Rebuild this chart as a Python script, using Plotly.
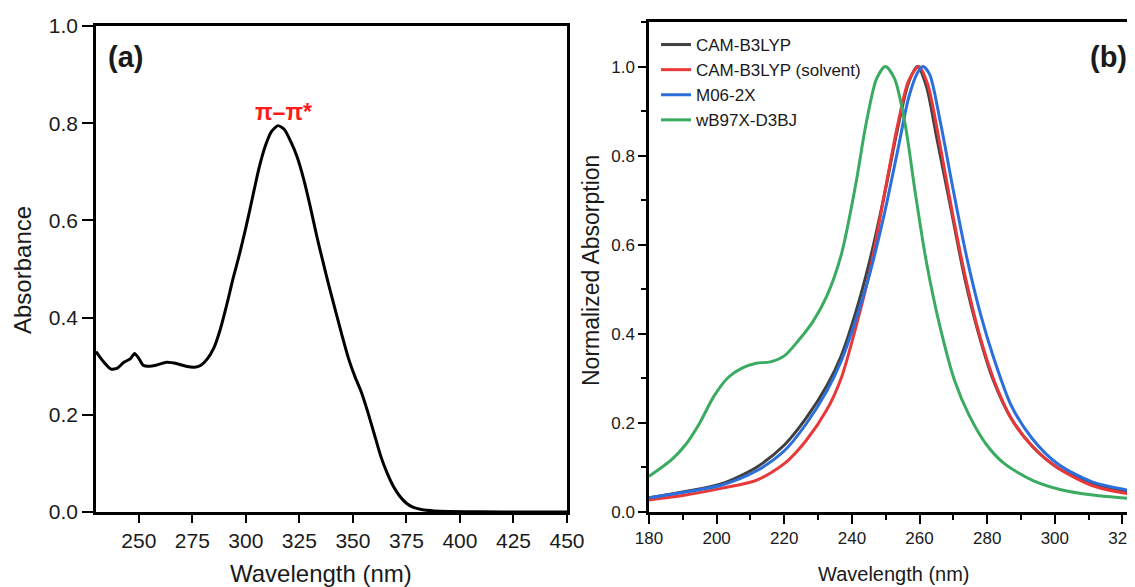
import plotly.graph_objects as go

# ---------------- Panel (a): experimental absorbance ----------------
wl_a = [230, 233, 237, 240, 243, 246, 248, 250, 252, 255, 258, 263, 268, 272, 276,
        279, 282, 285, 288, 291, 294, 297, 300, 303, 306, 309, 312, 315, 318, 321,
        324, 327, 330, 333, 336, 339, 342, 345, 348, 351, 354, 357, 360, 363, 366,
        369, 372, 375, 378, 382, 388, 395, 410, 430, 450]
abs_a = [0.330, 0.312, 0.294, 0.296, 0.308, 0.315, 0.326, 0.316, 0.302, 0.300, 0.302,
         0.308, 0.305, 0.300, 0.298, 0.302, 0.315, 0.337, 0.375, 0.425, 0.480, 0.530,
         0.585, 0.645, 0.705, 0.752, 0.783, 0.795, 0.787, 0.762, 0.730, 0.685, 0.630,
         0.570, 0.515, 0.462, 0.412, 0.362, 0.315, 0.278, 0.246, 0.205, 0.160, 0.115,
         0.080, 0.052, 0.032, 0.018, 0.010, 0.005, 0.002, 0.001, 0.0005, 0.0, 0.0]

# ---------------- Panel (b): computed spectra ----------------
series_names = ["CAM-B3LYP", "CAM-B3LYP (solvent)", "M06-2X", "wB97X-D3BJ"]
series_colors = ["#404040", "#e8383a", "#2a6fdc", "#3aab60"]

wl_cam = [180, 190.8, 201.3, 211.7, 220.1, 226.4, 232.7, 236.9, 241, 245.2, 249.4,
          253.6, 256.8, 259.4, 262, 265.1, 269.3, 273.5, 277.7, 281.9, 287.1, 293.4,
          300.7, 311.2, 324]
v_cam = [0.032, 0.046, 0.063, 0.100, 0.151, 0.210, 0.285, 0.352, 0.445, 0.562, 0.705,
         0.864, 0.965, 1.000, 0.956, 0.839, 0.680, 0.520, 0.394, 0.294, 0.210, 0.147,
         0.100, 0.063, 0.042]

wl_sol = [180, 190.8, 201.3, 211.7, 220.1, 226.4, 232.7, 236.9, 241, 245.2, 249.4,
          253.6, 256.8, 259.8, 262.4, 265.5, 269.5, 273.5, 277.7, 281.9, 287.1, 293.4,
          300.7, 311.2, 324]
v_sol = [0.027, 0.038, 0.053, 0.071, 0.109, 0.160, 0.231, 0.302, 0.410, 0.537, 0.705,
         0.872, 0.969, 1.000, 0.960, 0.847, 0.680, 0.529, 0.398, 0.298, 0.210, 0.147,
         0.100, 0.059, 0.038]

wl_m06 = [180, 190.8, 201.3, 211.7, 220.1, 226.4, 232.7, 236.9, 241, 245.2, 249.4,
          253.6, 256.8, 259.4, 261, 263, 266, 270, 274, 278, 282, 287.1, 293.4,
          300.7, 311.2, 324]
v_m06 = [0.032, 0.045, 0.060, 0.092, 0.138, 0.197, 0.273, 0.340, 0.428, 0.533, 0.663,
         0.814, 0.931, 0.986, 1.000, 0.982, 0.881, 0.721, 0.570, 0.445, 0.344, 0.239,
         0.164, 0.109, 0.067, 0.046]

wl_wb = [180, 186.6, 190.8, 195, 199.2, 203.4, 207.5, 211.7, 215.9, 220.1, 224.3,
         228.5, 232.7, 236.9, 241, 244.2, 247.3, 249.9, 252.6, 255.7, 258.8, 262,
         266.2, 270.4, 274.6, 279.8, 285, 293.4, 301.8, 311.2, 324]
v_wb = [0.080, 0.117, 0.151, 0.200, 0.260, 0.302, 0.323, 0.334, 0.337, 0.351, 0.386,
        0.428, 0.487, 0.579, 0.730, 0.872, 0.973, 1.000, 0.973, 0.872, 0.713, 0.562,
        0.411, 0.294, 0.218, 0.151, 0.109, 0.071, 0.050, 0.038, 0.029]

series_x = [wl_cam, wl_sol, wl_m06, wl_wb]
series_y = [v_cam, v_sol, v_m06, v_wb]

FONT = "Liberation Sans, Arial, sans-serif"
OFF = 8                      # page body margin
W, H = 1135 - OFF, 587 - OFF

def px_x(p):
    return (p - OFF) / W

def px_y(p):
    return (H - (p - OFF)) / H

fig = go.Figure()

fig.add_trace(go.Scatter(
    x=wl_a, y=abs_a, mode="lines", line=dict(color="black", width=3, shape="spline", smoothing=0.6),
    showlegend=False, xaxis="x", yaxis="y"))

for name, col, xs, ys in zip(series_names, series_colors, series_x, series_y):
    fig.add_trace(go.Scatter(
        x=xs, y=ys, mode="lines", name=name,
        line=dict(color=col, width=3, shape="spline", smoothing=0.8),
        xaxis="x2", yaxis="y2"))

axis_common = dict(showline=True, linecolor="black", linewidth=2.5, showgrid=False,
                   zeroline=False, ticks="outside", tickcolor="black", tickwidth=2,
                   automargin=False)

def ann(text, x, y, size, angle=0, color=None):
    f = dict(size=size)
    if color:
        f["color"] = color
    return dict(text=text, x=px_x(x), y=px_y(y), xref="paper", yref="paper",
                xanchor="center", yanchor="middle", textangle=angle,
                showarrow=False, font=f)

fig.update_layout(
    width=W, height=H, template="none",
    margin=dict(l=0, r=0, t=0, b=0),
    paper_bgcolor="white", plot_bgcolor="white",
    font=dict(family=FONT, color="#1a1a1a"),
    xaxis=dict(domain=[px_x(96), px_x(567)], range=[230, 450], tick0=0, dtick=25,
               ticklen=8, mirror=True, tickfont=dict(size=21), anchor="y", **axis_common),
    yaxis=dict(domain=[px_y(512), px_y(26)], range=[0, 1.0], dtick=0.2, tickformat=".1f",
               ticklen=11, mirror=True, tickfont=dict(size=21), anchor="x", **axis_common),
    xaxis2=dict(domain=[px_x(649), 1.0], range=[180, 323.7], tick0=0, dtick=20,
                ticklen=9, mirror=True, tickfont=dict(size=17), anchor="y2",
                ticklabeloverflow="allow",
                minor=dict(dtick=10, ticklen=5, tickwidth=2, tickcolor="black", ticks="outside"),
                **axis_common),
    yaxis2=dict(domain=[px_y(512), px_y(22)], range=[0, 1.1], dtick=0.2, tickformat=".1f",
                ticklen=8, mirror=False, tickfont=dict(size=17), anchor="x2",
                minor=dict(dtick=0.1, ticklen=5, tickwidth=2, tickcolor="black", ticks="outside"),
                **axis_common),
    legend=dict(x=px_x(656), y=px_y(27), xanchor="left", yanchor="top",
                bgcolor="rgba(255,255,255,0)", borderwidth=0,
                font=dict(size=17, family=FONT, color="#1a1a1a"),
                tracegroupgap=0, itemwidth=30),
    annotations=[
        ann("Absorbance", 22, 270, 24, angle=-90),
        ann("Wavelength (nm)", 321, 573, 24),
        ann("<b>(a)</b>", 125, 57, 29),
        ann("<b>π–π*</b>", 283, 112, 23, color="#ff1a1a"),
        ann("Normalized Absorption", 591, 271, 23, angle=-90),
        ann("Wavelength (nm)", 894, 574, 20),
        ann("<b>(b)</b>", 1108, 57, 29),
    ],
)

fig.write_html("out.html")
